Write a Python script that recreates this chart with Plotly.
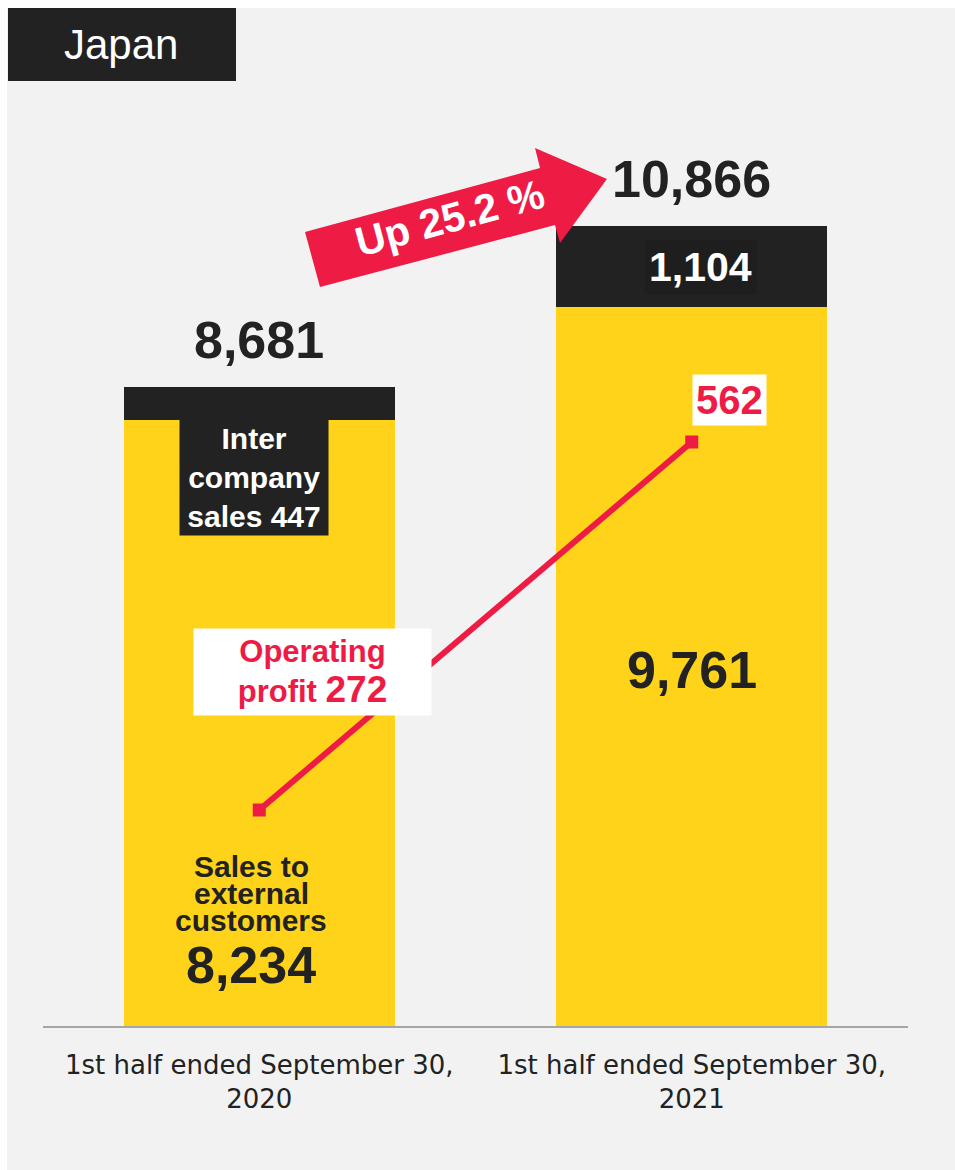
import plotly.graph_objects as go

periods = ["1st half ended September 30,<br>2020", "1st half ended September 30,<br>2021"]
external_sales = [8234, 9761]
intercompany_sales = [447, 1104]
total_sales = [8681, 10866]
operating_profit = [272, 562]
growth_label = "Up 25.2 %"

YELLOW = "#FFD31A"
BLACK = "#222222"
RED = "#EE1B45"
BG = "#F2F2F2"
FONT = "Liberation Sans, Arial, sans-serif"

W, H = 955, 1170
ML, MR, MT, MB = 43, 47, 100, 144


def px(x):
    # page pixel -> paper x
    return (x - ML) / (W - ML - MR)


def py(y):
    # page pixel -> paper y
    return (H - MB - y) / (H - MT - MB)


fig = go.Figure()

fig.add_trace(
    go.Bar(
        x=periods,
        y=external_sales,
        name="Sales to external customers",
        marker=dict(color=YELLOW, line=dict(width=0)),
        width=0.627,
    )
)
fig.add_trace(
    go.Bar(
        x=periods,
        y=intercompany_sales,
        name="Inter company sales",
        marker=dict(color=BLACK, line=dict(width=0)),
        width=0.627,
    )
)
fig.add_trace(
    go.Scatter(
        x=periods,
        y=operating_profit,
        yaxis="y2",
        mode="lines+markers",
        name="Operating profit",
        line=dict(color=RED, width=6),
        marker=dict(color=RED, symbol="square", size=13),
    )
)

annotations = []

# totals above the bars
for p, t in zip(periods, total_sales):
    annotations.append(
        dict(x=p, y=t, yref="y", text=f"<b>{t:,}</b>", showarrow=False,
             yanchor="middle", yshift=47, font=dict(size=52, color=BLACK, family=FONT))
    )

# 2021 segment labels
annotations.append(
    dict(x=periods[1], y=external_sales[1] + intercompany_sales[1] / 2, text=f"<b>{intercompany_sales[1]:,}</b>",
         showarrow=False, yanchor="middle", xshift=9, bgcolor="#1E1E1E", borderpad=4,
         font=dict(size=41, color="white", family=FONT))
)
annotations.append(
    dict(x=periods[1], y=external_sales[1] / 2, text=f"<b>{external_sales[1]:,}</b>",
         showarrow=False, yanchor="middle", yshift=-3,
         font=dict(size=52, color=BLACK, family=FONT))
)

# 2020 labels
annotations.append(
    dict(x=periods[0], y=total_sales[0], text=f"<b>Inter<br>company<br>sales {intercompany_sales[0]}</b>",
         showarrow=False, yanchor="middle", yshift=-91, xshift=-5, bgcolor=BLACK, borderpad=2,
         width=144, font=dict(size=30, color="white", family=FONT))
)
for i, line in enumerate(["Sales to", "external", "customers"]):
    annotations.append(
        dict(x=periods[0], y=0, text=f"<b>{line}</b>", showarrow=False, yanchor="middle",
             yshift=1026 - 866 - 27 * i, xshift=-8, font=dict(size=30, color=BLACK, family=FONT))
    )
annotations.append(
    dict(x=periods[0], y=0, text=f"<b>{external_sales[0]:,}</b>", showarrow=False, yanchor="middle",
         yshift=1026 - 965, xshift=-8, font=dict(size=52, color=BLACK, family=FONT))
)

# operating profit labels
annotations.append(
    dict(x=periods[0], y=operating_profit[0], yref="y2",
         text=f"<b>Operating<br>profit <span style='font-size:37px'>{operating_profit[0]}</span></b>",
         showarrow=False, yanchor="middle", xshift=53, yshift=138, bgcolor="white",
         borderpad=5, width=227, font=dict(size=31, color=RED, family=FONT))
)
annotations.append(
    dict(x=periods[1], y=operating_profit[1], yref="y2", text=f"<b>{operating_profit[1]}</b>",
         showarrow=False, yanchor="middle", xshift=38, yshift=42, bgcolor="white", borderpad=3,
         font=dict(size=40, color=RED, family=FONT))
)

# growth arrow text
annotations.append(
    dict(x=px(450), y=py(218), xref="paper", yref="paper", text=f"<b>{growth_label}</b>",
         xanchor="center", yanchor="middle",
         showarrow=False, textangle=-15, font=dict(size=41, color="white", family=FONT))
)

# region title
annotations.append(
    dict(x=px(121), y=py(45), xref="paper", yref="paper", text="Japan", showarrow=False,
         xanchor="center", yanchor="middle",
         font=dict(size=42, color="white", family=FONT))
)

arrow_pts = [(305, 232), (540, 168), (535, 148), (607, 179), (560, 243), (555, 225), (320, 287)]
arrow_path = "M " + " L ".join(f"{px(x):.4f},{py(y):.4f}" for x, y in arrow_pts) + " Z"

shapes = [
    # white frame strips
    dict(type="rect", xref="paper", yref="paper", x0=px(0), x1=px(W), y0=py(8), y1=py(0),
         fillcolor="white", line=dict(width=0), layer="below"),
    dict(type="rect", xref="paper", yref="paper", x0=px(0), x1=px(7), y0=py(H), y1=py(0),
         fillcolor="white", line=dict(width=0), layer="below"),
    # title box
    dict(type="rect", xref="paper", yref="paper", x0=px(8), x1=px(236), y0=py(81), y1=py(8),
         fillcolor=BLACK, line=dict(width=0)),
    # growth arrow
    dict(type="path", xref="paper", yref="paper", path=arrow_path, fillcolor=RED, line=dict(width=0)),
]

fig.update_layout(
    width=W,
    height=H,
    margin=dict(l=ML, r=MR, t=MT, b=MB),
    paper_bgcolor=BG,
    plot_bgcolor=BG,
    barmode="stack",
    bargap=0,
    showlegend=False,
    xaxis=dict(
        showgrid=False,
        showline=True,
        linecolor="#A6A6A6",
        linewidth=2,
        ticks="",
        ticklabelstandoff=15,
        tickfont=dict(size=26, color=BLACK, family="DejaVu Sans, sans-serif"),
        range=[-0.5, 1.5],
    ),
    yaxis=dict(visible=False, range=[0, 12578]),
    yaxis2=dict(visible=False, overlaying="y", range=[101.8, 831.5]),
    annotations=annotations,
    shapes=shapes,
)

fig.write_html(
    "out.html",
    config={"displayModeBar": False},
    post_script="document.body.style.margin='0';",
)
